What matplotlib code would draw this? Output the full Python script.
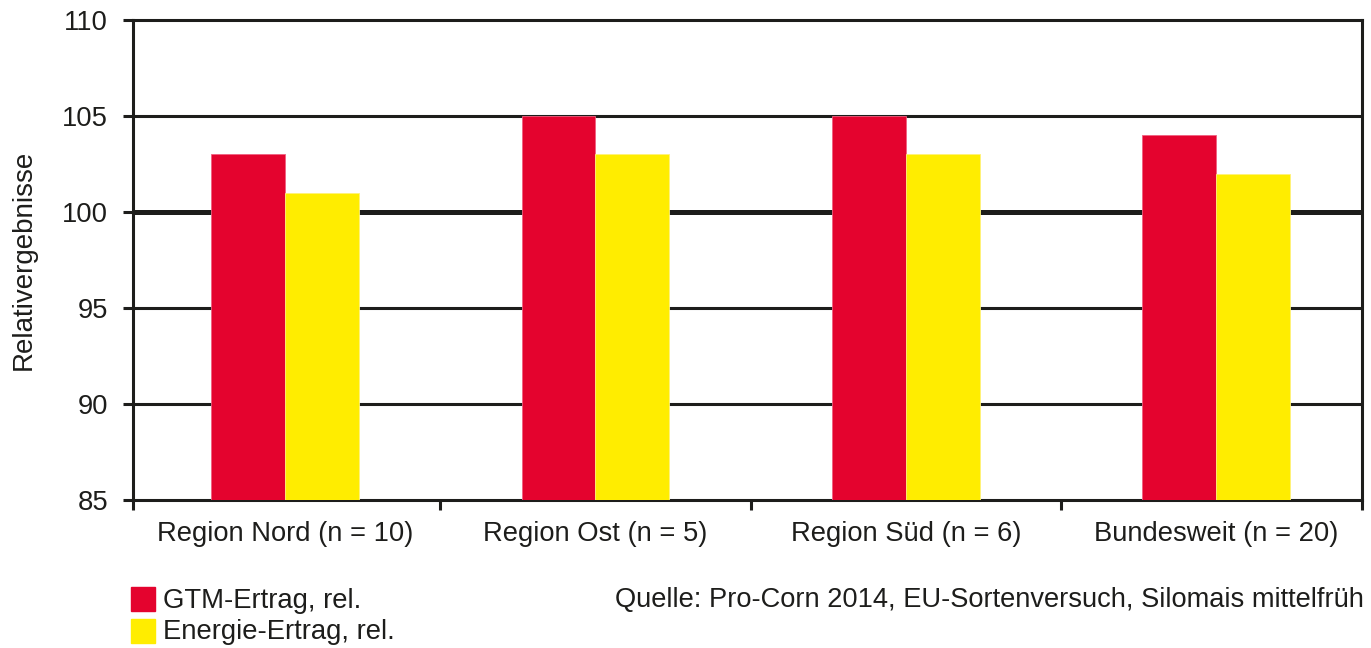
import matplotlib
matplotlib.use("Agg")
import matplotlib.pyplot as plt
import numpy as np
from matplotlib.patches import Rectangle

plt.rcParams['font.family'] = ['Liberation Sans', 'DejaVu Sans']

categories = ["Region Nord (n = 10)", "Region Ost (n = 5)", "Region Süd (n = 6)", "Bundesweit (n = 20)"]
gtm = [103, 105, 105, 104]
energie = [101, 103, 103, 102]
series_names = ["GTM-Ertrag, rel.", "Energie-Ertrag, rel."]
yticks = [85, 90, 95, 100, 105, 110]

red = "#E4032E"
yellow = "#FFED00"
dark = "#1d1d1b"

fig = plt.figure(figsize=(13.71, 6.48), dpi=100)
W, H = 1371, 648
ax = fig.add_axes([133/W, 1 - 500/H, (1362-133)/W, (500-20)/H])

x = np.arange(len(categories))
bw = 0.238
ax.bar(x - bw/2, gtm, bw, color=red, zorder=3, edgecolor="#f06080", linewidth=0.6)
ax.bar(x + bw/2, energie, bw, color=yellow, zorder=3, edgecolor="#fff27a", linewidth=0.6)

x0, x1 = -0.49, len(categories) - 0.53
ax.set_ylim(85, 110)
ax.set_yticks(yticks)
ax.set_yticklabels([str(v) for v in yticks], fontsize=19.7, color=dark)
for v in yticks:
    if v in (85, 110):
        continue
    ax.axhline(v, color=dark, lw=3.6 if v == 100 else 2.2, zorder=1)

ax.set_xticks([x0] + list(np.arange(0.5, len(categories) - 1)) + [x1], minor=False)
ax.set_xticklabels([])
ax.set_xticks(x, minor=True)
ax.set_xticklabels(categories, minor=True, fontsize=19.7, color=dark)
ax.tick_params(axis='x', which='minor', length=0, pad=15)
ax.tick_params(axis='x', which='major', length=7, width=2.2, color=dark)
ax.tick_params(axis='y', length=7, width=2.2, color=dark, pad=11)
ax.set_xlim(x0, x1)

for s in ax.spines.values():
    s.set_color(dark)
    s.set_linewidth(2.2)

ax.set_ylabel("Relativergebnisse", fontsize=20, color=dark, labelpad=18.5)

# legend
fig.patches.append(Rectangle((131/W, 1 - 611/H), 24/W, 24/H, transform=fig.transFigure, color=red))
fig.patches.append(Rectangle((131/W, 1 - 643/H), 24/W, 24/H, transform=fig.transFigure, color=yellow))
fig.text(163/W, 1 - 601/H, series_names[0], fontsize=19.8, color=dark, va='center')
fig.text(163/W, 1 - 632/H, series_names[1], fontsize=19.8, color=dark, va='center')
fig.text(1364/W, 1 - 600/H, "Quelle: Pro-Corn 2014, EU-Sortenversuch, Silomais mittelfrüh",
         fontsize=19.6, color=dark, va='center', ha='right')

fig.savefig("out.png", dpi=100)
